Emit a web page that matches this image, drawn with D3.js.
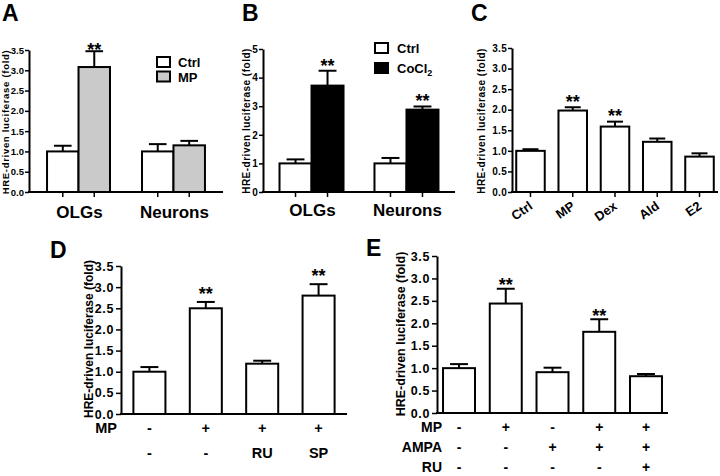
<!DOCTYPE html>
<html><head><meta charset="utf-8">
<script src="https://cdn.jsdelivr.net/npm/d3@7/dist/d3.min.js"></script>
<style>
body{margin:0;background:#fff}
text{font-family:"Liberation Sans",Arial,Helvetica,sans-serif;font-weight:bold;fill:#000}
</style>
</head><body>
<svg id="c" width="720" height="476"></svg>
<script>
// ---------- DATA ----------
const yLabel = "HRE-driven luciferase (fold)";
// Panel A
const aGroups = ["OLGs", "Neurons"];
const aSeries = ["Ctrl", "MP"];
const aValues = [[1.0, 3.08], [1.0, 1.15]];
const aErrors = [[0.14, 0.39], [0.18, 0.11]];
const aStars  = [[false, true], [false, false]];
const aTicks = [0, 0.5, 1.0, 1.5, 2.0, 2.5, 3.0, 3.5];
// Panel B
const bGroups = ["OLGs", "Neurons"];
const bSeries = ["Ctrl", "CoCl2"];
const bValues = [[1.0, 3.72], [1.0, 2.88]];
const bErrors = [[0.14, 0.52], [0.19, 0.11]];
const bStars  = [[false, true], [false, true]];
const bTicks = [0, 1, 2, 3, 4, 5];
// Panel C
const cCats = ["Ctrl", "MP", "Dex", "Ald", "E2"];
const cValues = [1.0, 1.98, 1.59, 1.22, 0.86];
const cErrors = [0.04, 0.08, 0.12, 0.08, 0.08];
const cStars  = [false, true, true, false, false];
const cTicks = [0, 0.5, 1.0, 1.5, 2.0, 2.5, 3.0, 3.5];
// Panel D
const dCats = ["d1", "d2", "d3", "d4"];
const dValues = [1.0, 2.50, 1.19, 2.80];
const dErrors = [0.11, 0.15, 0.07, 0.27];
const dStars  = [false, true, false, true];
const dRowNames = ["MP", ""];
const dRows = [["-", "+", "+", "+"], ["-", "-", "RU", "SP"]];
const dTicks = [0, 0.5, 1.0, 1.5, 2.0, 2.5, 3.0, 3.5];
// Panel E
const eCats = ["e1", "e2", "e3", "e4", "e5"];
const eValues = [1.0, 2.44, 0.91, 1.81, 0.82];
const eErrors = [0.09, 0.33, 0.10, 0.28, 0.05];
const eStars  = [false, true, false, true, false];
const eRowNames = ["MP", "AMPA", "RU"];
const eRows = [["-", "+", "-", "+", "+"], ["-", "-", "+", "+", "+"], ["-", "-", "-", "-", "+"]];
const eTicks = [0, 0.5, 1.0, 1.5, 2.0, 2.5, 3.0, 3.5];

// ---------- DRAWING ----------
const svg = d3.select("#c");

function drawAxesAndBars(p, bars) {
  const g = svg.append("g");
  const y = d3.scaleLinear().domain([0, p.yMax]).range([p.yBase, p.yTop]);
  g.selectAll("rect.bar").data(bars).join("rect")
    .attr("x", d => d.x).attr("y", d => y(d.v))
    .attr("width", d => d.w).attr("height", d => y(0) - y(d.v))
    .attr("fill", d => d.fill).attr("stroke", "#000").attr("stroke-width", 2);
  g.selectAll("line.err").data(bars).join("line")
    .attr("x1", d => d.x + d.w / 2).attr("x2", d => d.x + d.w / 2)
    .attr("y1", d => y(d.v)).attr("y2", d => y(d.v + d.e))
    .attr("stroke", "#000").attr("stroke-width", 2);
  g.selectAll("line.cap").data(bars).join("line")
    .attr("x1", d => d.x + d.w / 2 - d.w * 0.28).attr("x2", d => d.x + d.w / 2 + d.w * 0.28)
    .attr("y1", d => y(d.v + d.e)).attr("y2", d => y(d.v + d.e))
    .attr("stroke", "#000").attr("stroke-width", 2);
  g.selectAll("text.star").data(bars.filter(d => d.star)).join("text")
    .attr("x", d => d.x + d.w / 2).attr("y", d => y(d.v + d.e) - p.starGap + 13)
    .attr("text-anchor", "middle").attr("font-size", 18).text("**");
  const ax = g.append("g").attr("transform", `translate(${p.axisX},0)`)
    .call(d3.axisLeft(y).tickValues(p.ticks).tickFormat(p.fmt).tickSizeOuter(0).tickSizeInner(p.tickLen).tickPadding(p.tickPad));
  ax.select(".domain").attr("stroke-width", 2);
  ax.selectAll(".tick line").attr("stroke-width", 1.5);
  ax.selectAll(".tick text").attr("font-size", p.tickFont).style("letter-spacing", p.tickLS + "px");
  g.append("line").attr("x1", p.axisX - 1).attr("x2", p.xEnd)
    .attr("y1", p.yBase).attr("y2", p.yBase).attr("stroke", "#000").attr("stroke-width", 2);
  if (p.xTicks) {
    g.selectAll("line.xt").data(bars).join("line")
      .attr("x1", d => d.x + d.w / 2).attr("x2", d => d.x + d.w / 2)
      .attr("y1", p.yBase).attr("y2", p.yBase + 5)
      .attr("stroke", "#000").attr("stroke-width", 1.5);
  }
  g.append("text")
    .attr("transform", `translate(${p.labX},${p.labY}) rotate(-90)`)
    .attr("text-anchor", "middle").attr("font-size", p.labFont)
    .style("letter-spacing", p.labLS + "px").text(yLabel);
  return { g, y };
}

function panelLetter(t, x, yb) {
  svg.append("text").attr("x", x).attr("y", yb).attr("font-size", 23).text(t);
}

// ----- Panel A -----
(function () {
  const outer = d3.scaleBand().domain(aGroups).range([29, 223]).paddingInner(0.337).paddingOuter(0.19);
  const inner = d3.scaleBand().domain(aSeries).range([0, outer.bandwidth()]);
  const fills = ["#fff", "#cacaca"];
  const bars = [];
  aGroups.forEach((gname, gi) => aSeries.forEach((s, si) => bars.push({
    x: outer(gname) + inner(s), w: inner.bandwidth(), v: aValues[gi][si], e: aErrors[gi][si],
    star: aStars[gi][si], fill: fills[si]
  })));
  const { g } = drawAxesAndBars({ yMax: 3.5, yBase: 192, yTop: 50, axisX: 29, xEnd: 223, ticks: aTicks,
    fmt: d3.format(".1f"), tickLen: 4, tickPad: 1, tickFont: 9.5, tickLS: 0, starGap: 8, xTicks: true,
    labX: 9, labY: 122, labFont: 9.5, labLS: 0.7 }, bars);
  g.selectAll("text.xl").data(aGroups).join("text")
    .attr("x", d => outer(d) + outer.bandwidth() / 2 + 1).attr("y", 218)
    .attr("text-anchor", "middle").attr("font-size", 17).text(d => d);
  const lg = g.append("g");
  aSeries.forEach((s, i) => {
    lg.append("rect").attr("x", 157).attr("y", 57 + i * 14.5).attr("width", 13).attr("height", 10)
      .attr("fill", fills[i]).attr("stroke", "#000").attr("stroke-width", 2);
    lg.append("text").attr("x", 178).attr("y", 67 + i * 14.5).attr("font-size", 13).text(s);
  });
  panelLetter("A", 2, 21);
})();

// ----- Panel B -----
(function () {
  const outer = d3.scaleBand().domain(bGroups).range([263, 455]).paddingInner(0.326).paddingOuter(0.174);
  const inner = d3.scaleBand().domain(bSeries).range([0, outer.bandwidth()]);
  const fills = ["#fff", "#000"];
  const bars = [];
  bGroups.forEach((gname, gi) => bSeries.forEach((s, si) => bars.push({
    x: outer(gname) + inner(s), w: inner.bandwidth(), v: bValues[gi][si], e: bErrors[gi][si],
    star: bStars[gi][si], fill: fills[si]
  })));
  const { g } = drawAxesAndBars({ yMax: 5, yBase: 192, yTop: 49, axisX: 263, xEnd: 455, ticks: bTicks,
    fmt: d3.format("d"), tickLen: 4, tickPad: 1, tickFont: 10, tickLS: 0.3, starGap: 12, xTicks: true,
    labX: 250, labY: 121, labFont: 10, labLS: 0.5 }, bars);
  g.selectAll("text.xl").data(bGroups).join("text")
    .attr("x", d => outer(d) + outer.bandwidth() / 2 + 1).attr("y", 216)
    .attr("text-anchor", "middle").attr("font-size", 17).text(d => d);
  const lg = g.append("g");
  bSeries.forEach((s, i) => {
    lg.append("rect").attr("x", 375).attr("y", 43 + i * 20).attr("width", 13).attr("height", 10)
      .attr("fill", fills[i]).attr("stroke", "#000").attr("stroke-width", 2);
    const t = lg.append("text").attr("x", 397).attr("y", 53 + i * 20).attr("font-size", 13);
    if (s === "CoCl2") {
      t.append("tspan").text("CoCl");
      t.append("tspan").attr("font-size", 9).attr("dy", 3).text("2");
    } else t.text(s);
  });
  panelLetter("B", 242, 21);
})();

// ----- Panel C -----
(function () {
  const x = d3.scaleBand().domain(cCats).range([512, 718]).paddingInner(0.325).paddingOuter(0.1);
  const bars = cCats.map((c, i) => ({ x: x(c), w: x.bandwidth(), v: cValues[i], e: cErrors[i], star: cStars[i], fill: "#fff" }));
  const { g } = drawAxesAndBars({ yMax: 3.5, yBase: 192, yTop: 48, axisX: 512, xEnd: 718, ticks: cTicks,
    fmt: d3.format(".1f"), tickLen: 4, tickPad: 1, tickFont: 10, tickLS: 0.3, starGap: 12.5, xTicks: true,
    labX: 485, labY: 121, labFont: 10, labLS: 0.5 }, bars);
  g.selectAll("text.xl").data(cCats).join("text")
    .attr("transform", d => `translate(${x(d) + x.bandwidth() / 2 + 3},208) rotate(-35)`)
    .attr("text-anchor", "end").attr("font-size", 13).text(d => d);
  panelLetter("C", 471, 21);
})();

// ----- Panel D -----
(function () {
  const x = d3.scaleBand().domain(dCats).range([121, 347]).paddingInner(0.432).paddingOuter(0.22);
  const bars = dCats.map((c, i) => ({ x: x(c), w: x.bandwidth(), v: dValues[i], e: dErrors[i], star: dStars[i], fill: "#fff" }));
  const { g } = drawAxesAndBars({ yMax: 3.5, yBase: 414, yTop: 266, axisX: 121, xEnd: 347, ticks: dTicks,
    fmt: d3.format(".1f"), tickLen: 5, tickPad: 2, tickFont: 12.5, tickLS: 0.6, starGap: 15, xTicks: false,
    labX: 93, labY: 339, labFont: 12, labLS: 0 }, bars);
  dRows.forEach((row, ri) => {
    const by = 433 + ri * 25;
    g.append("text").attr("x", 117).attr("y", by).attr("text-anchor", "end").attr("font-size", 14.5).text(dRowNames[ri]);
    g.selectAll(null).data(row).join("text")
      .attr("x", (d, i) => x(dCats[i]) + x.bandwidth() / 2).attr("y", by)
      .attr("text-anchor", "middle").attr("font-size", 14.5).text(d => d);
  });
  panelLetter("D", 50, 258);
})();

// ----- Panel E -----
(function () {
  const x = d3.scaleBand().domain(eCats).range([437, 668]).paddingInner(0.316).paddingOuter(0.129);
  const bars = eCats.map((c, i) => ({ x: x(c), w: x.bandwidth(), v: eValues[i], e: eErrors[i], star: eStars[i], fill: "#fff" }));
  const { g } = drawAxesAndBars({ yMax: 3.5, yBase: 413, yTop: 256, axisX: 437, xEnd: 668, ticks: eTicks,
    fmt: d3.format(".1f"), tickLen: 5, tickPad: 2, tickFont: 12.5, tickLS: 0.6, starGap: 10.5, xTicks: false,
    labX: 405, labY: 334, labFont: 12.5, labLS: 0 }, bars);
  eRows.forEach((row, ri) => {
    const by = 432 + ri * 20;
    g.append("text").attr("x", 442).attr("y", by).attr("text-anchor", "end").attr("font-size", 14).text(eRowNames[ri]);
    g.selectAll(null).data(row).join("text")
      .attr("x", (d, i) => x(eCats[i]) + x.bandwidth() / 2).attr("y", by)
      .attr("text-anchor", "middle").attr("font-size", 14).text(d => d);
  });
  panelLetter("E", 366, 256);
})();
</script>
</body></html>
